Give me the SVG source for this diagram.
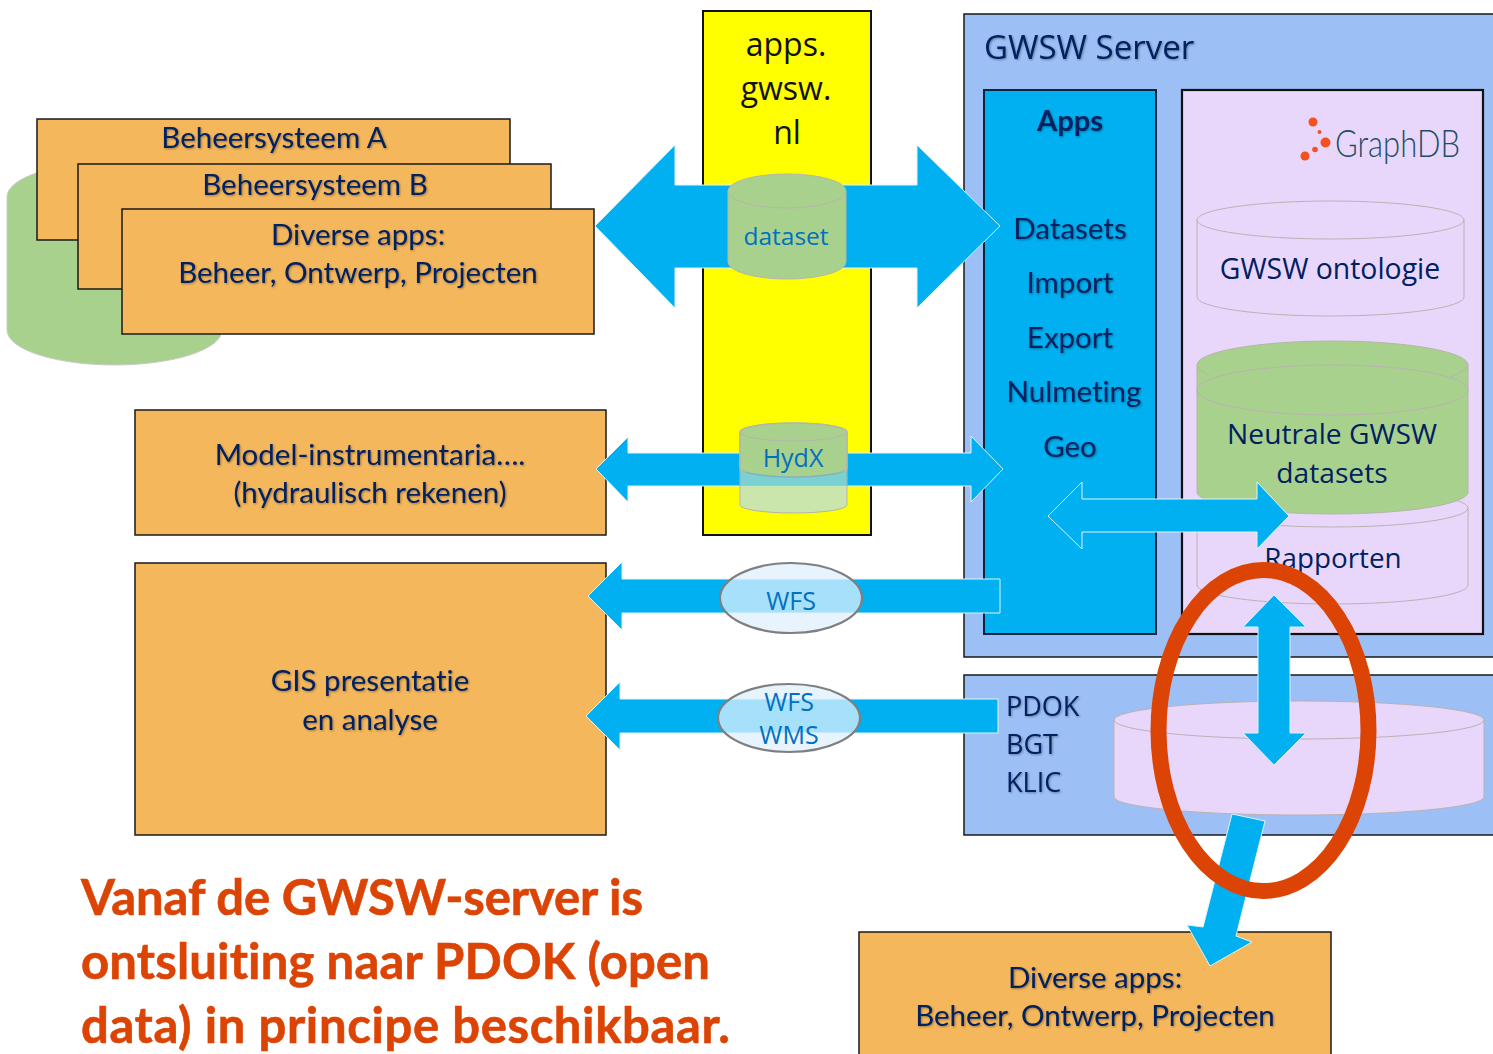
<svg xmlns="http://www.w3.org/2000/svg" width="1493" height="1054" viewBox="0 0 1493 1054">
<defs>
<filter id="sh" x="-5%" y="-20%" width="110%" height="140%"><feDropShadow dx="1" dy="1" stdDeviation="0.8" flood-color="#000" flood-opacity="0.35"/></filter>
</defs>
<style>
text{font-family:"Lato","Liberation Sans",sans-serif;fill:#002060;text-anchor:middle;font-variant-ligatures:none}
.s{filter:url(#sh)}
.o{font-family:"Open Sans","Noto Sans",sans-serif}
.st{text-anchor:start}
.blu{fill:#0070c0}
.blk{fill:#111}
.red{fill:#dc4405;text-anchor:start}
.or{fill:#f5b75c;stroke:#1a1a1a;stroke-width:1.5}
.bl{fill:#9cbff5;stroke:#1a1a1a;stroke-width:1.5}
.ar{fill:#00b0f0;stroke:#dff3fb;stroke-width:1}
.lil{fill:#e9d7fb;stroke:#b9b2b2;stroke-width:1}
.gr{fill:#a9d18e;stroke:#b5b5a8;stroke-width:1}
.pl{fill:none;stroke:#b9b2b2;stroke-width:1}
.el{fill:#dff0fd;fill-opacity:.75;stroke:#7f7f7f;stroke-width:2.2}
</style>

<g id="yellow-apps">
<rect x="703" y="11" width="168" height="524" fill="#ffff00" stroke="#111" stroke-width="2"/>
<text class="o blk" x="786" y="56" font-size="32">apps.</text>
<text class="o blk" x="786" y="100" font-size="32">gwsw.</text>
<text class="o blk" x="787" y="144" font-size="32">nl</text>
</g>

<g id="server">
<rect class="bl" x="964" y="14" width="535" height="643"/>
<text class="o st s" x="984" y="59" font-size="33">GWSW Server</text>
</g>
<g id="apps">
<rect x="984" y="90" width="172" height="544" fill="#00b0f0" stroke="#10243e" stroke-width="2"/>
<g class="s">
<text x="1070" y="131" font-size="29" font-weight="700">Apps</text>
<text x="1070" y="239" font-size="29.500">Datasets</text>
<text x="1070" y="293" font-size="29.500">Import</text>
<text x="1070" y="348" font-size="29.500">Export</text>
<text x="1074" y="402" font-size="29.500">Nulmeting</text>
<text x="1070" y="457" font-size="29.500">Geo</text>
</g>
</g>
<g id="graphdb">
<rect x="1182" y="90" width="301" height="544" fill="#e9d7fb" stroke="#111" stroke-width="2.200"/>
<circle cx="1313" cy="122" r="4.500" fill="#f4511e"/><circle cx="1319.500" cy="132" r="2" fill="#f4511e"/><circle cx="1325.500" cy="142.500" r="5" fill="#f4511e"/><circle cx="1315" cy="149.500" r="2.800" fill="#f4511e"/><circle cx="1305" cy="156" r="4.500" fill="#f4511e"/>
<text class="st" x="1335" y="157" font-size="37" font-weight="300" textLength="125" lengthAdjust="spacingAndGlyphs" style="fill:#1d4e66">GraphDB</text>
</g>
<g id="ontologie">
<path class="lil" d="M1197 220A133.500 19 0 0 1 1464 220V297A133.500 19 0 0 1 1197 297Z"/>
<path class="pl" d="M1197 220A133.500 19 0 0 0 1464 220"/>
<text class="o" x="1330" y="279" font-size="28.400">GWSW ontologie</text>
</g>
<g id="rapporten">
<path class="lil" d="M1197 508A135.500 19 0 0 1 1468 508V585A135.500 19 0 0 1 1197 585Z"/>
<path class="pl" d="M1197 508A135.500 19 0 0 0 1468 508"/>
<text class="o" x="1333" y="568" font-size="27.800">Rapporten</text>
</g>
<g id="neutrale">
<path class="gr" d="M1197 365A135.500 24 0 0 1 1468 365V492A135.500 22 0 0 1 1197 492Z"/>
<ellipse class="pl" cx="1332.500" cy="390" rx="135.500" ry="25"/>
<path class="pl" d="M1197 365Q1199 371 1210 376M1468 365Q1466 371 1449 378"/>
<text class="o" x="1332" y="444" font-size="28.200">Neutrale GWSW</text>
<text class="o" x="1332" y="483" font-size="28.200">datasets</text>
</g>

<g id="pdok">
<rect class="bl" x="964" y="675" width="535" height="160"/>
<g class="s">
<text class="o st" x="1006" y="716" font-size="27">PDOK</text>
<text class="o st" x="1006" y="754" font-size="27">BGT</text>
<text class="o st" x="1006" y="792" font-size="27">KLIC</text>
</g>
<path class="lil" d="M1114 720A185 19 0 0 1 1484 720V797A185 18 0 0 1 1114 797Z"/>
<path class="pl" d="M1114 720A185 19 0 0 0 1484 720"/>
</g>

<g id="beheer-cylinder">
<path d="M7 197A107.500 35 0 0 1 222 197V330A107.500 35 0 0 1 7 330Z" fill="#a9d18e" stroke="#c9c9c9" stroke-width="1"/>
</g>
<g id="beheersysteem-a">
<rect class="or" x="37" y="119" width="473" height="121"/>
<text class="s" x="274" y="148" font-size="29.500">Beheersysteem A</text>
</g>
<g id="beheersysteem-b">
<rect class="or" x="78" y="164" width="473" height="125"/>
<text class="s" x="315" y="195" font-size="29.500">Beheersysteem B</text>
</g>
<g id="diverse-apps-1">
<rect class="or" x="122" y="209" width="472" height="125"/>
<text class="s" x="358" y="245" font-size="29.500">Diverse apps:</text>
<text class="s" x="358" y="283" font-size="29.500">Beheer, Ontwerp, Projecten</text>
</g>
<g id="model">
<rect class="or" x="135" y="410" width="471" height="125"/>
<text class="s" x="370" y="465" font-size="29.500">Model-instrumentaria….</text>
<text class="s" x="370" y="503" font-size="29.500">(hydraulisch rekenen)</text>
</g>
<g id="gis">
<rect class="or" x="135" y="563" width="471" height="272"/>
<text class="s" x="370" y="691" font-size="29.500">GIS presentatie</text>
<text class="s" x="370" y="730" font-size="29.500">en analyse</text>
</g>
<g id="diverse-apps-2">
<rect class="or" x="859" y="932" width="472" height="130"/>
<text class="s" x="1095" y="988" font-size="29.500">Diverse apps:</text>
<text class="s" x="1095" y="1026" font-size="29.500">Beheer, Ontwerp, Projecten</text>
</g>

<g id="connectors">
<path class="ar" d="M595 226L675 145V185H917V145L1000 226L917 308V268H675V308Z"/>
<path class="ar" d="M596 469L628 437V453H971V436L1003 469L971 502V486H628V502Z"/>
<path class="ar" d="M588 596L622 562V579H1000V613H622V630Z"/>
<path class="ar" d="M586 716L620 682V699H998V733H620V750Z"/>
<path class="ar" d="M1048 516L1082 482V499H1257V482L1289 516L1257 549V532H1082V549Z"/>
<path class="ar" d="M1274 595L1306 627H1290V733H1306L1274 765L1243 733H1258V627H1243Z"/>
<path class="ar" d="M1232 814L1265 821L1236 936L1252 942L1210 966L1187 925L1203 927Z"/>
</g>

<g id="dataset">
<path class="gr" d="M728 191A59 17 0 0 1 846 191V262A59 17 0 0 1 728 262Z"/>
<path class="pl" d="M728 191A59 17 0 0 0 846 191"/>
<text class="o blu" x="786" y="245" font-size="24.500">dataset</text>
</g>
<g id="hydx">
<path d="M740 432A53.500 9 0 0 1 847 432V505A53.500 8 0 0 1 740 505Z" fill="#c4e3c0" fill-opacity=".9" stroke="#b5b5a8"/>
<path d="M740 468V432A53.500 9 0 0 1 847 432V468A53.500 9 0 0 1 740 468Z" fill="#a9d18e" stroke="#b5b5a8" stroke-width="1.500"/>
<path d="M740 471Q793 482 847 471V486H740Z" fill="#00b0f0" fill-opacity=".3"/>
<path class="pl" d="M740 432A53.500 9 0 0 0 847 432"/>
<text class="o blu" x="793" y="467" font-size="25">HydX</text>
</g>
<g id="wfs">
<ellipse class="el" cx="791" cy="598" rx="71" ry="35"/>
<text class="o blu" x="791" y="610" font-size="25">WFS</text>
</g>
<g id="wfs-wms">
<ellipse class="el" cx="789" cy="718" rx="71" ry="34"/>
<text class="o blu" x="789" y="711" font-size="25">WFS</text>
<text class="o blu" x="789" y="744" font-size="25">WMS</text>
</g>

<g id="highlight">
<ellipse cx="1263.500" cy="730.500" rx="105" ry="160.500" fill="none" stroke="#dc4405" stroke-width="16"/>
</g>

<g id="note" font-weight="700" font-size="49" stroke="#dc4405" stroke-width=".6">
<text class="red" x="81" y="915" textLength="562" lengthAdjust="spacing">Vanaf de GWSW-server is</text>
<text class="red" x="81" y="979" textLength="629" lengthAdjust="spacing">ontsluiting naar PDOK (open</text>
<text class="red" x="81" y="1043" textLength="649" lengthAdjust="spacing">data) in principe beschikbaar.</text>
</g>
</svg>
